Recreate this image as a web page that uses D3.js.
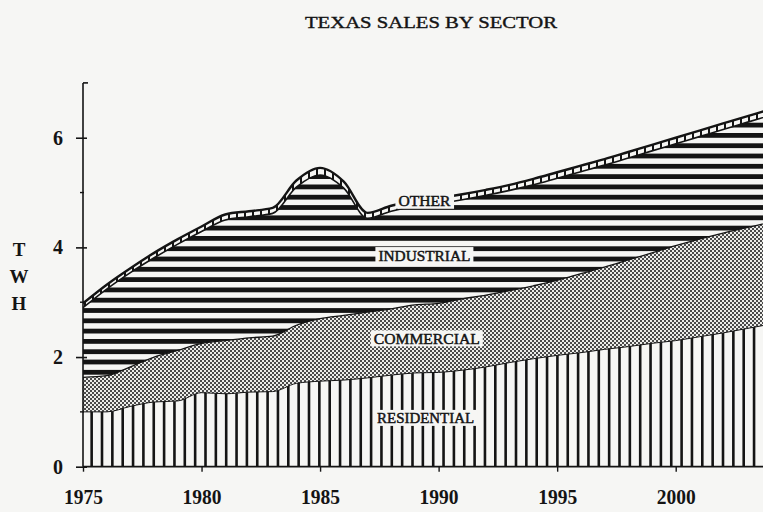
<!DOCTYPE html>
<html><head><meta charset="utf-8">
<script src="https://cdn.jsdelivr.net/npm/d3@7"></script>
<style>html,body{margin:0;padding:0;background:#f6f6f4;} svg{display:block;}</style>
</head><body><svg id="chart" width="763" height="512"></svg>
<script>
// ---- data (TWh) ----
const years = [1975,1976,1977,1978,1979,1980,1981,1982,1983,1984,1985,1986,1987,1988,1989,1990,1991,1992,1993,1994,1995,1996,1997,1998,1999,2000,2001,2002,2003,2004];
const residential = [1.00,1.00,1.10,1.18,1.20,1.35,1.33,1.36,1.37,1.52,1.56,1.58,1.62,1.67,1.71,1.72,1.76,1.82,1.90,1.97,2.03,2.08,2.14,2.19,2.25,2.30,2.37,2.44,2.52,2.60];
const commercial  = [0.63,0.66,0.72,0.82,0.92,0.90,0.97,0.99,1.01,1.06,1.14,1.18,1.20,1.21,1.24,1.26,1.30,1.31,1.31,1.33,1.37,1.44,1.50,1.58,1.65,1.73,1.78,1.82,1.84,1.86];
const industrial  = [1.27,1.58,1.72,1.81,1.94,2.04,2.20,2.21,2.24,2.52,2.62,2.32,1.71,1.78,1.80,1.82,1.81,1.82,1.83,1.84,1.86,1.86,1.86,1.86,1.86,1.86,1.87,1.89,1.92,1.95];
const other       = [0.08,0.08,0.08,0.09,0.09,0.09,0.10,0.10,0.10,0.12,0.13,0.12,0.10,0.10,0.10,0.10,0.10,0.10,0.10,0.11,0.11,0.11,0.11,0.11,0.11,0.11,0.11,0.11,0.11,0.11];
const sectorKeys  = ["residential","commercial","industrial","other"];
const sectorLabels = ["RESIDENTIAL","COMMERCIAL","INDUSTRIAL","OTHER"];
const yTickValues = [0,2,4,6];
const yMinorTicks = [1,3,5];
const xTickValues = [1975,1980,1985,1990,1995,2000];
const title = "TEXAS SALES BY SECTOR";
const yAxisTitle = ["T","W","H"];

// ---- chart ----
const BG = "#f6f6f4", INK = "#141414";
const FONT = "'Liberation Serif','DejaVu Serif',serif";
const W = 763, H = 512;
const svg = d3.select("#chart");
svg.append("rect").attr("width",W).attr("height",H).attr("fill",BG);

const x = d3.scaleLinear().domain([1975,2000]).range([83,675.7]);
const y = d3.scaleLinear().domain([0,7]).range([466.7,82.9]);

const data = years.map((yr,i)=>({year:yr,residential:residential[i],commercial:commercial[i],industrial:industrial[i],other:other[i]}));
const series = d3.stack().keys(sectorKeys)(data);

const area = d3.area().x(d=>x(d.data.year)).y0(d=>y(d[0])).y1(d=>y(d[1])).curve(d3.curveMonotoneX);
const topLine = d3.line().x(d=>x(d.data.year)).y(d=>y(d[1])).curve(d3.curveMonotoneX);

const defs = svg.append("defs");
defs.append("clipPath").attr("id","plotClip").append("rect")
  .attr("x",83).attr("y",0).attr("width",W-83).attr("height",466.7);
series.forEach(s=>{
  defs.append("clipPath").attr("id","clip-"+s.key).append("path").attr("d",area(s));
});

// stipple (commercial)
const pCom = defs.append("pattern").attr("id","pCom").attr("patternUnits","userSpaceOnUse")
  .attr("width",4).attr("height",4);
pCom.append("rect").attr("width",4).attr("height",4).attr("fill","#ecece9");
pCom.append("rect").attr("x",0).attr("y",0).attr("width",2).attr("height",2).attr("fill","#4a4a4a");
pCom.append("rect").attr("x",2).attr("y",2).attr("width",2).attr("height",2).attr("fill","#4a4a4a");

const plot = svg.append("g").attr("clip-path","url(#plotClip)");

// base fills
const baseFill = {residential:BG,commercial:"url(#pCom)",industrial:BG,other:BG};
plot.selectAll("path.area").data(series).join("path").attr("class","area")
  .attr("d",area).attr("fill",s=>baseFill[s.key]);

// hatch: vertical lines in residential
const gRes = plot.append("g").attr("clip-path","url(#clip-residential)");
gRes.selectAll("rect").data(d3.range(80, W+10, 10.35)).join("rect")
  .attr("x",d=>d).attr("y",0).attr("width",2.6).attr("height",H).attr("fill",INK);

// hatch: horizontal stripes in industrial
const gInd = plot.append("g").attr("clip-path","url(#clip-industrial)");
gInd.selectAll("rect").data(d3.range(236 - 10.3*16, 470, 10.3)).join("rect")
  .attr("x",0).attr("y",d=>d).attr("width",W).attr("height",4.8).attr("fill",INK);

// ladder rungs in other
const gOth = plot.append("g").attr("clip-path","url(#clip-other)");
gOth.selectAll("rect").data(d3.range(84, W+10, 8)).join("rect")
  .attr("x",d=>d).attr("y",0).attr("width",2).attr("height",H).attr("fill",INK);

const strokeW = {residential:1,commercial:1.3,industrial:1.6,other:2.4};
plot.selectAll("path.edge").data(series).join("path").attr("class","edge")
  .attr("d",topLine).attr("fill","none").attr("stroke",INK)
  .attr("stroke-width",s=>strokeW[s.key]).attr("stroke-linejoin","round");

// ---- labels with background boxes ----
const labelPos = {residential:[1989.45,0.89,97],commercial:[1989.5,2.34,106],industrial:[1989.4,3.86,92],other:[1989.4,4.85,52]};
sectorKeys.forEach((k,i)=>{
  const [yr,val,len] = labelPos[k];
  const g = svg.append("g");
  const t = g.append("text").attr("x",x(yr)).attr("y",y(val)).attr("text-anchor","middle")
    .attr("dominant-baseline","central").attr("font-family",FONT).attr("font-size",15.5)
    .attr("fill",INK).attr("stroke",INK).attr("stroke-width",0.5)
    .attr("textLength",len).attr("lengthAdjust","spacingAndGlyphs")
    .text(sectorLabels[i]);
  const bb = t.node().getBBox();
  g.insert("rect","text").attr("x",bb.x-3).attr("y",bb.y+0.5).attr("width",bb.width+6).attr("height",bb.height-1)
    .attr("fill",BG);
});

// ---- axes ----
const yAxis = svg.append("g").attr("transform","translate(83,0)")
  .call(d3.axisLeft(y).tickValues(yTickValues).tickSize(7).tickPadding(13).tickFormat(d3.format("d")));
yAxis.select(".domain").attr("d",`M0,${y(7)}V${y(0)}`).attr("stroke",INK).attr("stroke-width",1.6);
yAxis.selectAll(".tick line").attr("x2",-7).attr("x1",4).attr("stroke",INK).attr("stroke-width",1.6);
yAxis.selectAll(".tick text").attr("font-family",FONT).attr("font-size",20).attr("font-weight","bold").attr("fill",INK);
svg.append("g").selectAll("line").data(yMinorTicks).join("line")
  .attr("x1",80).attr("x2",84).attr("y1",d=>y(d)).attr("y2",d=>y(d)).attr("stroke",INK).attr("stroke-width",1.4);
svg.append("line").attr("x1",83).attr("x2",88).attr("y1",y(7)).attr("y2",y(7)).attr("stroke",INK).attr("stroke-width",1.6);

const xAxis = svg.append("g").attr("transform",`translate(0,${y(0)})`)
  .call(d3.axisBottom(x).tickValues(xTickValues).tickSize(5).tickPadding(18).tickFormat(d3.format("d")));
xAxis.select(".domain").attr("d",`M83,0H${W}`).attr("stroke",INK).attr("stroke-width",1.8);
xAxis.selectAll(".tick line").attr("stroke",INK).attr("stroke-width",1.4);
xAxis.selectAll(".tick text").attr("font-family",FONT).attr("font-size",20).attr("font-weight","bold")
  .attr("fill",INK).attr("textLength",39).attr("lengthAdjust","spacingAndGlyphs");

// y axis title (stacked letters)
svg.append("g").selectAll("text").data(yAxisTitle).join("text")
  .attr("x",19).attr("y",(d,i)=>249+i*27).attr("text-anchor","middle").attr("dominant-baseline","central")
  .attr("font-family",FONT).attr("font-size",19).attr("font-weight","bold").attr("fill",INK).text(d=>d);

// title
svg.append("text").attr("x",431).attr("y",22).attr("text-anchor","middle").attr("dominant-baseline","central")
  .attr("font-family",FONT).attr("font-size",17).attr("fill",INK).attr("stroke",INK).attr("stroke-width",0.4)
  .attr("textLength",252).attr("lengthAdjust","spacingAndGlyphs").text(title);
</script></body></html>
